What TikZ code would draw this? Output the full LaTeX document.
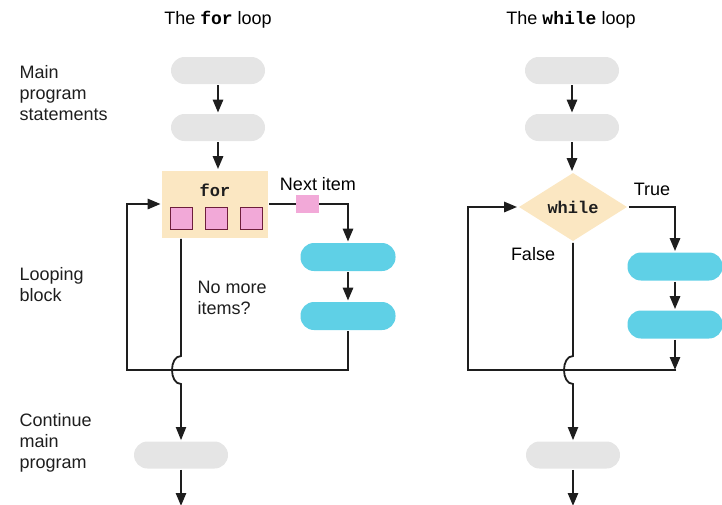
\documentclass[tikz,border=0pt]{standalone}
\usepackage{fontspec}
\setmainfont{Liberation Sans}
\newfontfamily\codefont{Liberation Mono}
\usetikzlibrary{arrows.meta, positioning, shapes.geometric}
\definecolor{cgrey}{HTML}{E5E5E5}
\definecolor{ccyan}{HTML}{5FD0E6}
\definecolor{cbeige}{HTML}{FBE7C2}
\definecolor{cpink}{HTML}{F2A9D8}
\definecolor{cplum}{HTML}{6E1E3C}
\definecolor{cink}{HTML}{1E1E1E}
\tikzset{
  every picture/.style={font=\fontsize{18}{21}\selectfont, line width=2.6pt, line join=miter},
  pill/.style={fill=#1, rounded corners=13.5pt, minimum width=94pt, minimum height=27pt, inner sep=0pt},
  pill/.default=cgrey,
  flow/.style={-{Triangle[length=13pt, width=10pt]}, draw=cink, line width=2.6pt},
  exit/.style={-{Triangle[length=13pt, width=10pt]}, draw=cink, line width=1.8pt},
  item/.style={draw=cplum, fill=cpink, line width=1pt, minimum size=22pt, inner sep=0pt},
  side/.style={anchor=west, align=left, text=cink},
  code/.style={font=\codefont\bfseries\fontsize{17}{20}\selectfont, text=cink},
}

\begin{document}
\begin{tikzpicture}[x=1pt, y=-1pt]
  \useasboundingbox (0,0) rectangle (722,504);
  % titles and side labels
  \node (tfor) at (218,20) {The {\codefont\bfseries for} loop};
  \node (twhile) at (571,20) {The {\codefont\bfseries while} loop};
  \node[side] (lmain) at (15,93) {Main\\program\\statements};
  \node[side] (lloop) at (15,285) {Looping\\block};
  \node[side] (lcont) at (15,443) {Continue\\main\\program};
  % the for loop
  \node[pill] (fp1) at (218,70.5) {};
  \node[pill] (fp2) at (218,127.5) {};
  \node[fill=cbeige, minimum width=106pt, minimum height=67pt, inner sep=0pt] (forbox) at (215,204) {};
  \node[code] (forkw) at (215,190) {for};
  \foreach \x/\n in {181/1, 216/2, 251/3}
    { \node[item] (sq\n) at (\x,218) {}; }
  \node[pill=ccyan, minimum width=95pt, minimum height=28pt] (fc1) at (348,257) {};
  \node[pill=ccyan, minimum width=95pt, minimum height=28pt] (fc2) at (348,316) {};
  \node[pill] (fp3) at (181,455) {};
  \coordinate (fl1) at (127,370);
  \coordinate (fh1) at (181,356);
  \coordinate (fh2) at (181,384);
  \coordinate (fend) at (181,506);
  \draw[flow] (fp1) -- (fp2);
  \draw[flow] (fp2) -- (fp2 |- forbox.north);
  \draw[flow] (forbox.east) -| (fc1);
  \node[fill=cpink, minimum width=23pt, minimum height=18pt, inner sep=0pt] (nxt) at (307,204) {};
  \node (lnext) at (318,184) {Next item};
  \draw[flow] (fc1) -- (fc2);
  \draw[flow] (fc2) |- (fl1) |- (forbox.west);
  \draw[exit] (sq1 |- forbox.south) -- (fh1) .. controls +(-12,0) and +(-12,0) .. (fh2) -- (fp3);
  \node[side] (lnomore) at (193,298) {No more\\items?};
  \draw[flow] (fp3) -- (fend);
  % the while loop
  \node[pill] (wp1) at (572,70.5) {};
  \node[pill] (wp2) at (572,127.5) {};
  \node[diamond, aspect=1.58, fill=cbeige, minimum width=109pt, minimum height=69pt, inner sep=0pt, code] (wd) at (573,207) {while};
  \node[pill=ccyan, minimum width=95pt, minimum height=28pt] (wc1) at (675,266.5) {};
  \node[pill=ccyan, minimum width=95pt, minimum height=28pt] (wc2) at (675,324.5) {};
  \node[pill] (wp3) at (573,455) {};
  \coordinate (wb1) at (675,370);
  \coordinate (wl1) at (468,370);
  \coordinate (wh1) at (573,356);
  \coordinate (wh2) at (573,384);
  \coordinate (wend) at (573,506);
  \draw[flow] (wp1) -- (wp2);
  \draw[flow] (wp2) -- (wp2 |- wd.north);
  \draw[flow] (wd.east) -| (wc1);
  \node (ltrue) at (652,189) {True};
  \node (lfalse) at (533,254) {False};
  \draw[flow] (wc1) -- (wc2);
  \draw[flow] (wc2) -- (wb1);
  \draw[flow] ([xshift=1.3pt]wb1) -- (wl1) |- (wd.west);
  \draw[exit] (wd.south) -- (wh1) .. controls +(-12,0) and +(-12,0) .. (wh2) -- (wp3);
  \draw[flow] (wp3) -- (wend);
\end{tikzpicture}
\end{document}
